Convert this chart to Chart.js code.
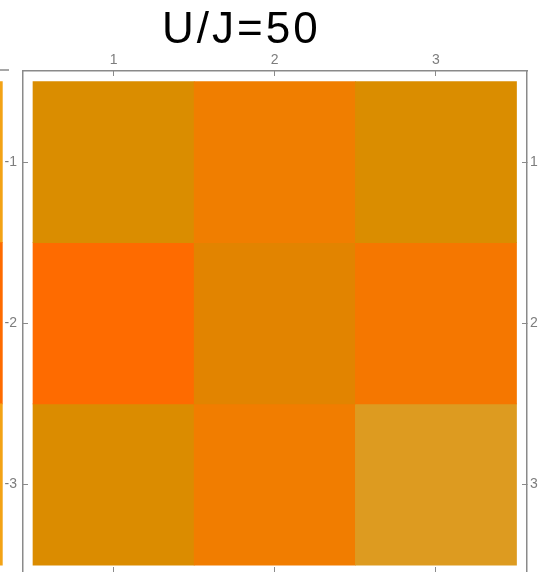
<!DOCTYPE html>
<html><head><meta charset="utf-8">
<script src="https://cdn.jsdelivr.net/npm/chart.js@4/dist/chart.umd.min.js"></script>
<style>html,body{margin:0;padding:0;background:#fff;overflow:hidden}canvas{display:block}</style>
</head><body>
<canvas id="c" width="546" height="572"></canvas>
<script>
// ---- data ----
const TITLE = 'U/J=50';
const rows = [1, 2, 3];
const cols = [1, 2, 3];
const xTickLabels = ['1', '2', '3'];
const leftTickLabels = ['-1', '-2', '-3'];
const rightTickLabels = ['1', '2', '3'];
// estimated cell values (relative colour level, 0 = gold, 1 = red-orange)
const row1 = [0.25, 0.60, 0.25];
const row2 = [1.00, 0.40, 0.75];
const row3 = [0.26, 0.62, 0.00];
// fragment of the neighbouring panel visible at the left edge
const neighborCol = -0.19;
const neighborValues = [-0.3, 1.0, -0.3];

// ---- colour map ----
const colorStops = [
  [-0.3, '#F3A316'], [0.0, '#DD9B20'], [0.25, '#DA8D00'], [0.4, '#E28400'],
  [0.6, '#F07E00'], [0.75, '#F57700'], [1.0, '#FE6B00']
];
function hex2rgb(h){return [1,3,5].map(i=>parseInt(h.slice(i,i+2),16));}
function colorFor(v){
  if (v <= colorStops[0][0]) return colorStops[0][1];
  for (let i = 1; i < colorStops.length; i++) {
    const [v1, c1] = colorStops[i];
    const [v0, c0] = colorStops[i-1];
    if (v <= v1) {
      const t = (v - v0) / (v1 - v0);
      const a = hex2rgb(c0), b = hex2rgb(c1);
      const m = a.map((x, k) => Math.round(x + (b[k]-x)*t));
      return `rgb(${m[0]},${m[1]},${m[2]})`;
    }
  }
  return colorStops[colorStops.length-1][1];
}

const matrix = [row1, row2, row3];
const datasets = rows.map((r, ri) => ({
  label: 'row ' + r,
  data: cols.map(c => ({x: c, y: [r - 0.5, r + 0.5]})),
  backgroundColor: matrix[ri].map(colorFor),
  borderWidth: 0,
  grouped: false,
  barPercentage: 1,
  categoryPercentage: 1,
  xAxisID: 'x', yAxisID: 'y'
}));
datasets.unshift({
  label: 'neighbor',
  data: rows.map(r => ({x: neighborCol, y: [r - 0.5, r + 0.5]})),
  backgroundColor: neighborValues.map(colorFor),
  borderWidth: 0,
  grouped: false,
  barPercentage: 1,
  categoryPercentage: 1,
  clip: false,
  xAxisID: 'x', yAxisID: 'y'
});

const GRAY = '#8a8a8a';
const LABEL = '#7d7d7d';
const tickFont = {family: '"Liberation Sans", Arial, sans-serif', size: 14};
const X_MIN = 0.438, X_MAX = 3.565, Y_MIN = 0.435, Y_MAX = 3.543;

const titlePlugin = {
  id: 'titleText',
  afterDraw(chart) {
    const ctx = chart.ctx;
    ctx.save();
    ctx.font = '44px "Liberation Sans", Arial, sans-serif';
    ctx.fillStyle = '#000';
    try { ctx.letterSpacing = '3px'; } catch(e) {}
    ctx.textAlign = 'left';
    ctx.textBaseline = 'alphabetic';
    ctx.fillText(TITLE, 162, 43);
    ctx.restore();
    // top frame edge of the neighbouring panel
    ctx.save();
    ctx.strokeStyle = GRAY; ctx.lineWidth = 1.5;
    ctx.beginPath(); ctx.moveTo(0, 70); ctx.lineTo(9, 70); ctx.stroke();
    ctx.restore();
  }
};

function axisX(pos, extra) {
  return Object.assign({
    type: 'linear', position: pos, min: X_MIN, max: X_MAX, offset: false,
    afterBuildTicks: s => { s.ticks = cols.map(v => ({value: v})); },
    grid: {offset: false, drawOnChartArea: false, drawTicks: true, tickLength: -5, color: GRAY, lineWidth: 1}
  }, extra);
}
function axisY(pos, labels, width, padding) {
  return {
    type: 'linear', position: pos, reverse: true, min: Y_MIN, max: Y_MAX, offset: false,
    afterBuildTicks: s => { s.ticks = rows.map(v => ({value: v})); },
    afterFit: s => { s.width = width; s.paddingTop = 0; s.paddingBottom = 0; },
    ticks: {color: LABEL, font: tickFont, padding: padding, autoSkip: false,
            callback: (v, i) => labels[i]},
    grid: {offset: false, drawOnChartArea: false, drawTicks: true, tickLength: -5, color: GRAY, lineWidth: 1},
    border: {display: true, color: GRAY, width: 1.5}
  };
}

new Chart(document.getElementById('c'), {
  type: 'bar',
  data: {datasets},
  options: {
    responsive: false,
    animation: false,
    devicePixelRatio: 1,
    layout: {padding: 0, autoPadding: false},
    plugins: {legend: {display: false}, tooltip: {enabled: false}, title: {display: false}},
    events: [],
    scales: {
      x: axisX('top', {
        afterFit: s => { s.height = 71; },
        ticks: {color: LABEL, font: tickFont, padding: 7, autoSkip: false, maxRotation: 0,
                callback: (v, i) => xTickLabels[i]},
        border: {display: true, color: GRAY, width: 1.5}
      }),
      x2: axisX('bottom', {
        afterFit: s => { s.height = 0; s.paddingLeft = 0; s.paddingRight = 0; },
        ticks: {display: false},
        border: {display: false}
      }),
      y: axisY('left', leftTickLabels, 23, 11),
      y2: axisY('right', rightTickLabels, 19, 8)
    }
  },
  plugins: [titlePlugin]
});
</script>
</body></html>
